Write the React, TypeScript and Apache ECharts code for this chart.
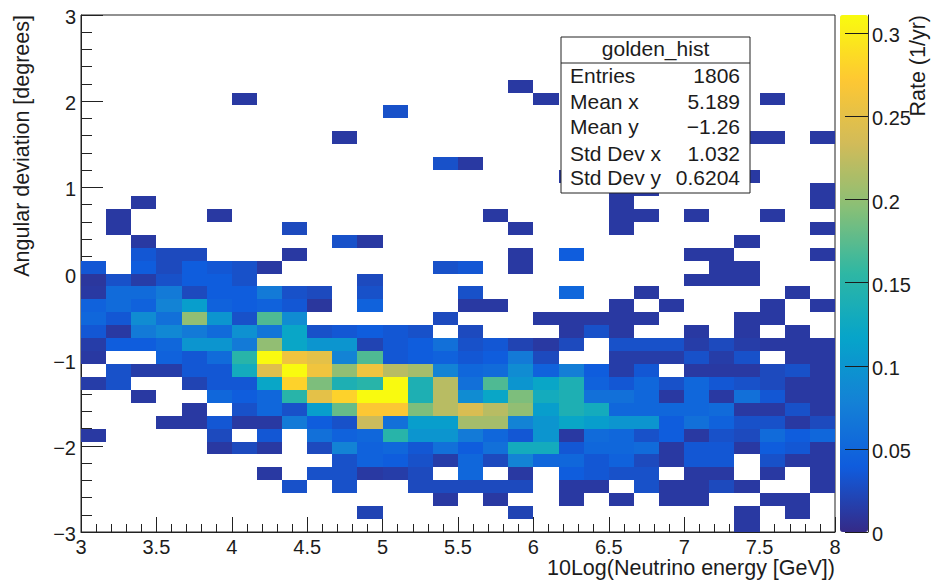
import React, { useEffect, useRef } from "react";
import * as echarts from "echarts";

const xMin = 3;
const xMax = 8;
const yMin = -3;
const yMax = 3;
const xBinWidth = 5 / 30;
const yBinWidth = 6 / 40;
const rateMax = 0.311;
const barTicks = [0, 0.05, 0.1, 0.15, 0.2, 0.25, 0.3];

// Rate (1/yr) per bin. Outer index: y bin from -3 upward, inner index: x bin from 3 upward. 0 = empty.
const rates: number[][] = [
  [0,0,0,0,0,0,0,0,0,0, 0,0,0,0,0,0,0,0,0,0, 0,0,0,0,0,0,.012,0,0,0],
  [0,0,0,0,0,0,0,0,0,0, 0,.02,0,0,0,0,0,.02,0,0, 0,0,0,0,0,0,.012,0,.012,0],
  [0,0,0,0,0,0,0,0,0,0, 0,0,0,0,.012,0,.012,0,0,.012, 0,.012,0,.012,.012,0,0,.012,.012,0],
  [0,0,0,0,0,0,0,0,.03,0, .03,0,0,.025,.025,.025,.025,.025,0,.012, .012,0,.03,.012,.012,.025,.012,0,0,.012],
  [0,0,0,0,0,0,0,.012,0,.03, .03,.012,.015,.025,0,.05,0,.012,0,.04, .035,.03,.03,0,.012,.012,0,.012,0,.012],
  [0,0,0,0,0,0,0,0,0,0, .03,.045,.04,.03,.015,.05,.025,.08,.05,.05, .035,.045,.025,.012,.035,.035,0,.03,.012,.012],
  [0,0,0,0,0,.012,.025,.012,0,.025, .08,.045,.05,.035,.06,.04,.06,.13,.13,.035, .05,.05,.055,.012,.035,.035,.012,.04,.035,.012],
  [.012,0,0,0,0,.025,0,.035,0,.06, .045,.05,.15,.1,.1,.07,.05,.035,.1,.012, .055,.05,.03,.04,.012,.03,.025,.055,.04,.05],
  [0,0,0,.012,.012,.035,.012,.012,.07,.04, .03,.23,.06,.11,.11,.21,.21,.08,.1,.12, .11,.1,.1,.04,.06,.045,.03,.03,.012,.025],
  [0,0,0,0,.012,0,.03,.05,.03,.11, .18,.27,.27,.19,.22,.24,.22,.2,.11,.14, .13,.05,.05,.05,.05,.055,.012,.012,.03,.012],
  [0,0,.012,0,0,.05,.04,.05,.15,.25, .28,.31,.31,.14,.22,.09,.12,.19,.13,.14, .06,.06,.05,.012,.05,.012,.06,.035,.012,.012],
  [.015,.03,0,0,.02,.035,.035,.12,.28,.19, .14,.15,.31,.14,.22,.06,.17,.1,.12,.14, .045,.035,.05,.03,.05,.035,.03,.025,.012,.012],
  [0,.03,.015,.015,.035,.035,.13,.245,.31,.26, .2,.26,.22,.21,.08,.05,.055,.09,.045,.075, .04,.015,.035,0,.012,.012,.012,.025,.03,.012],
  [.012,0,0,.045,.035,.055,.15,.31,.26,.25, .08,.17,.035,.04,.045,.035,.04,.07,.025,0, 0,.015,.015,.015,.03,.015,.03,0,.012,.012],
  [.015,.04,.04,.05,.1,.1,.07,.2,.12,.1, .1,.02,.035,.04,.06,.03,.035,.02,.012,.025, 0,.03,.03,.03,.015,.025,.015,.012,.012,.012],
  [.035,.012,.07,.085,.07,.055,.095,.065,.12,.03, .035,.04,.035,.03,0,.025,0,0,0,.012, .03,.012,0,0,.012,0,.012,0,.012,0],
  [.05,.035,.09,.06,.2,.1,.03,.17,.09,0, 0,0,0,0,.025,0,0,0,.012,.012, .012,.012,.012,0,0,0,.012,.012,0,0],
  [.045,.055,.045,.08,.11,.045,.04,.045,.035,.01, 0,.045,0,0,0,.012,.012,0,0,0, 0,.012,0,.012,0,0,0,.012,0,.012],
  [.012,.055,.055,.07,.025,.04,.04,.07,.03,.025, 0,.03,0,0,0,.03,0,0,0,.05, 0,0,.012,0,0,0,0,0,.012,0],
  [.01,.03,.015,.03,.04,.04,.03,0,0,0, 0,.025,0,0,0,0,0,0,0,0, 0,0,0,0,.012,.012,.012,0,0,0],
  [.035,0,.04,.025,.04,.035,.03,.012,0,0, 0,0,0,0,.03,.035,0,.012,0,0, 0,0,0,0,0,.012,.012,0,0,0],
  [0,0,.035,.025,.025,0,0,0,.012,0, 0,0,0,0,0,0,0,.012,0,.04, 0,0,0,0,.012,.012,0,0,0,.012],
  [0,0,.012,0,0,0,0,0,0,0, .03,.012,0,0,0,0,0,0,0,0, 0,0,0,0,0,0,.012,0,0,0],
  [0,.012,0,0,0,0,0,0,.025,0, 0,0,0,0,0,0,0,.012,0,0, 0,.012,0,0,0,0,0,0,0,.012],
  [0,.012,0,0,0,.012,0,0,0,0, 0,0,0,0,0,0,.012,0,0,0, 0,.012,.012,0,.012,0,0,.012,0,0],
  [0,0,.012,0,0,0,0,0,0,0, 0,0,0,0,0,0,0,0,0,0, 0,.012,0,0,0,0,0,0,0,.012],
  [0,0,0,0,0,0,0,0,0,0, 0,0,0,0,0,0,0,0,0,0, 0,.012,.012,0,0,0,0,0,0,.012],
  [0,0,0,0,0,0,0,0,0,0, 0,0,0,0,0,0,0,0,0,.012, 0,0,0,0,0,0,.012,0,0,0],
  [0,0,0,0,0,0,0,0,0,0, 0,0,0,0,.03,.012,0,0,0,0, 0,0,0,0,0,0,0,0,0,0],
  [0,0,0,0,0,0,0,0,0,0, 0,0,0,0,0,0,0,0,0,0, 0,0,0,0,0,0,0,0,0,0],
  [0,0,0,0,0,0,0,0,0,0, .012,0,0,0,0,0,0,0,0,0, 0,0,0,0,0,0,.012,.012,0,.012],
  [0,0,0,0,0,0,0,0,0,0, 0,0,0,0,0,0,0,0,0,0, 0,0,0,0,0,0,0,0,0,0],
  [0,0,0,0,0,0,0,0,0,0, 0,0,.03,0,0,0,0,0,0,0, 0,0,0,0,0,0,0,0,0,0],
  [0,0,0,0,0,0,.012,0,0,0, 0,0,0,0,0,0,0,0,.012,0, 0,0,0,0,0,0,0,.012,0,0],
  [0,0,0,0,0,0,0,0,0,0, 0,0,0,0,0,0,0,.012,0,0, 0,0,0,0,0,0,0,0,0,0],
];

const palette = ["#352a87", "#0f5cdd", "#1481d6", "#06a4ca", "#2eb7a4", "#87bf77", "#d1bb59", "#fec832", "#f9fb0e"];

const statsTitle = "golden_hist";
const statsLabels = ["Entries", "Mean x", "Mean y", "Std Dev x", "Std Dev y"];
const statsValues = ["1806", "5.189", "\u22121.26", "1.032", "0.6204"];
const statsRowY = [75, 101, 126, 153, 177];

const xAxisTitle = "10Log(Neutrino energy [GeV])";
const yAxisTitle = "Angular deviation [degrees]";
const barTitle = "Rate (1/yr)";

const FONT = "Liberation Sans";
const INK = "#1c1c1c";

const cells: number[][] = [];
rates.forEach((row, j) =>
  row.forEach((v, i) => {
    if (v > 0) cells.push([xMin + i * xBinWidth, yMin + j * yBinWidth, v]);
  })
);

const minusFmt = (v: number) => String(v).replace("-", "\u2212");

function statsGraphic() {
  const text = (t: string, x: number, y: number, align: string, size = 21) => ({
    type: "text",
    x,
    y,
    z: 102,
    style: {
      text: t,
      fontFamily: FONT,
      fontSize: size,
      fill: INK,
      align,
      textAlign: align,
      verticalAlign: "middle",
      textVerticalAlign: "middle",
    },
  });
  return [
    {
      type: "rect",
      z: 100,
      shape: { x: 561, y: 37, width: 189, height: 156 },
      style: { fill: "#ffffff", stroke: "#222222", lineWidth: 1 },
    },
    {
      type: "line",
      z: 101,
      shape: { x1: 561, y1: 63, x2: 750, y2: 63 },
      style: { stroke: "#222222", lineWidth: 1 },
    },
    text(statsTitle, 655.5, 48, "center"),
    ...statsLabels.map((l, k) => text(l, 570, statsRowY[k], "left")),
    ...statsValues.map((l, k) => text(l, 740, statsRowY[k], "right")),
  ];
}

export default function App() {
  const ref = useRef<HTMLDivElement>(null);
  useEffect(() => {
    const chart = echarts.init(ref.current!, undefined, { renderer: "svg" });
    chart.setOption({
      animation: false,
      backgroundColor: "#ffffff",
      textStyle: { fontFamily: FONT },
      grid: [
        { left: 81, top: 15, width: 754, height: 517, show: true, borderColor: "#222222", borderWidth: 1, backgroundColor: "transparent", outerBoundsMode: "none" },
        { left: 840, top: 15, width: 28, height: 517, outerBoundsMode: "none" },
      ],
      xAxis: [
        {
          type: "value",
          gridIndex: 0,
          min: xMin,
          max: xMax,
          interval: 0.5,
          name: xAxisTitle,
          nameLocation: "end",
          nameGap: 0,
          nameMoveOverlap: false,
          nameTextStyle: { fontFamily: FONT, fontSize: 21.5, color: INK, align: "right", verticalAlign: "top", padding: [25, 0, 0, 0] },
          axisLine: { show: true, onZero: false, lineStyle: { color: "#222222" } },
          axisTick: { show: true, inside: true, length: 15, lineStyle: { color: "#222222" } },
          minorTick: { show: true, splitNumber: 5, length: 8, lineStyle: { color: "#222222" } },
          axisLabel: { fontFamily: FONT, fontSize: 20, color: INK, margin: 5, showMinLabel: true, showMaxLabel: true },
          splitLine: { show: false },
        },
        { type: "value", gridIndex: 1, show: false, min: 0, max: 1, axisLine: { onZero: false } },
      ],
      yAxis: [
        {
          type: "value",
          gridIndex: 0,
          min: yMin,
          max: yMax,
          interval: 1,
          name: yAxisTitle,
          nameLocation: "end",
          nameRotate: 90,
          nameGap: 0,
          nameMoveOverlap: false,
          nameTextStyle: { fontFamily: FONT, fontSize: 21.5, color: INK, align: "right", verticalAlign: "bottom", padding: [0, 0, 48, 0] },
          axisLine: { show: true, onZero: false, lineStyle: { color: "#222222" } },
          axisTick: { show: true, inside: true, length: 22, lineStyle: { color: "#222222" } },
          minorTick: { show: true, splitNumber: 5, length: 11, lineStyle: { color: "#222222" } },
          axisLabel: { fontFamily: FONT, fontSize: 20, color: INK, margin: 5, verticalAlign: "top", lineHeight: 4, formatter: minusFmt, showMinLabel: true, showMaxLabel: true },
          splitLine: { show: false },
        },
        {
          type: "value",
          gridIndex: 1,
          position: "right",
          min: 0,
          max: rateMax,
          z: 10,
          name: barTitle,
          nameLocation: "end",
          nameRotate: 90,
          nameGap: 0,
          nameMoveOverlap: false,
          nameTextStyle: { fontFamily: FONT, fontSize: 21.5, color: INK, align: "right", verticalAlign: "top", padding: [39, 0, 0, 0] },
          axisLine: { show: true, onZero: false, lineStyle: { color: "#333333" } },
          axisTick: { show: true, inside: true, length: 23, customValues: barTicks, lineStyle: { color: "#1c1c1c" } },
          axisLabel: { fontFamily: FONT, fontSize: 20, color: INK, margin: 4, customValues: barTicks, verticalAlign: "top", lineHeight: 4 },
          splitLine: { show: false },
        },
      ],
      visualMap: {
        type: "continuous",
        seriesIndex: 0,
        dimension: 2,
        min: 0,
        max: rateMax,
        left: 840,
        top: 15,
        itemWidth: 28,
        itemHeight: 517,
        padding: 0,
        calculable: false,
        hoverLink: false,
        inRange: { color: palette },
      },
      graphic: statsGraphic(),
      series: [
        {
          type: "custom",
          coordinateSystem: "cartesian2d",
          xAxisIndex: 0,
          yAxisIndex: 0,
          z: 2,
          data: cells,
          encode: { x: 0, y: 1 },
          renderItem: (_: any, api: any) => {
            const x = api.value(0);
            const y = api.value(1);
            const a = api.coord([x, y + yBinWidth]);
            const b = api.coord([x + xBinWidth, y]);
            const x0 = Math.round(a[0]);
            const y0 = Math.round(a[1]);
            return {
              type: "rect",
              shape: { x: x0, y: y0, width: Math.round(b[0]) - x0, height: Math.round(b[1]) - y0 },
              style: { fill: api.visual("color") },
            };
          },
        },
      ],
    });
    return () => chart.dispose();
  }, []);
  return <div ref={ref} style={{ position: "absolute", left: 0, top: 0, width: 931, height: 580 }} />;
}
